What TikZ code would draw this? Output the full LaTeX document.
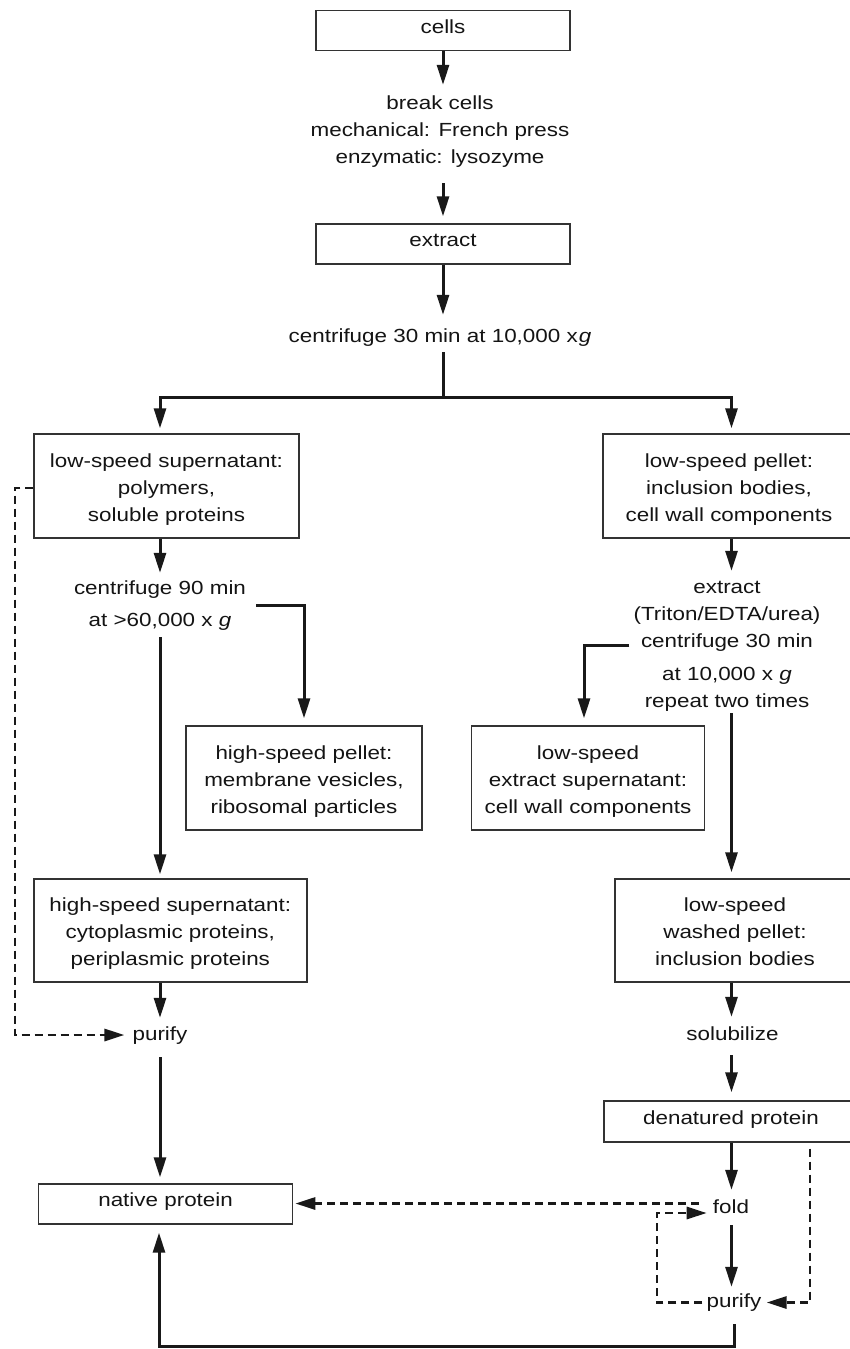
\documentclass[tikz,border=0pt]{standalone}
\usepackage{fontspec}
\setmainfont[FakeStretch=1.18]{Liberation Sans}
\usetikzlibrary{arrows.meta}
\newcommand\bxtop{\rule{0pt}{24pt}}
\newcommand\bxbot{\rule[-8pt]{0pt}{8pt}}
\newcommand\txtop{\rule{0pt}{14pt}}
\newcommand\txbot{\rule[-5pt]{0pt}{5pt}}
\tikzset{
 basefont/.style={font=\fontsize{19}{27}\selectfont, text=black!92, inner sep=0pt},
 boxone/.style={basefont, draw=black!80, line width=1.4pt, text height=14pt, text depth=9pt, minimum height=40pt},
 boxthree/.style={basefont, draw=black!80, line width=1.4pt, align=center, minimum height=104pt},
 txt/.style={basefont, text height=14pt, text depth=5pt},
 mtxt/.style={basefont, align=center},
 arr/.style={line width=3pt, draw=black!90, -{Triangle[length=20pt,width=12pt]}},
 darr/.style={arr, dash pattern=on 8pt off 5pt, line width=2.9pt},
 plainline/.style={line width=3pt, draw=black!90},
}
\begin{document}
\begin{tikzpicture}[x=1pt,y=-1pt]
\fill[white] (0,0) rectangle (850,1349);
\useasboundingbox (0,0) rectangle (850,1349);

\node[boxone, minimum width=254pt] (cells) at (443,30.7) {cells};
\node[mtxt] (break) at (440,131.5) {\txtop break cells\\mechanical: French press\\enzymatic: lysozyme\txbot};
\node[boxone, minimum width=254pt] (extract) at (443,244) {extract};
\node[txt] (c1) at (440,337.5) {centrifuge 30 min at 10,000 x\kern1pt\textit{g}};
\node[boxthree, minimum width=265pt] (lss) at (166.5,486) {\bxtop low-speed supernatant:\\polymers,\\soluble proteins\bxbot};
\node[boxthree, minimum width=252pt] (lsp) at (729,486) {\bxtop low-speed pellet:\\inclusion bodies,\\cell wall components\bxbot};
\node[mtxt] (cf90) at (160,605.5) {\txtop centrifuge 90 min\\[5pt]at >60,000 x \textit{g}\txbot};
\node[mtxt] (rtext) at (727,645.5) {\txtop extract\\(Triton/EDTA/urea)\\centrifuge 30 min\\[6pt]at 10,000 x \textit{g}\\repeat two times\txbot};
\node[boxthree, minimum width=236pt] (hsp) at (304,778) {\bxtop high-speed pellet:\\membrane vesicles,\\ribosomal particles\bxbot};
\node[boxthree, minimum width=233pt] (lses) at (588,778) {\bxtop low-speed\\extract supernatant:\\cell wall components\bxbot};
\node[boxthree, minimum width=273pt, minimum height=103pt] (hss) at (170.3,930.5) {\bxtop high-speed supernatant:\\cytoplasmic proteins,\\periplasmic proteins\bxbot};
\node[boxthree, minimum width=240pt, minimum height=103pt] (lswp) at (735,930.5) {\bxtop low-speed\\washed pellet:\\inclusion bodies\bxbot};
\node[txt] (p1) at (160,1035.5) {purify};
\node[txt] (sol) at (732.5,1035.5) {solubilize};
\node[boxone, minimum width=254pt, minimum height=41pt] (dp) at (731,1121.5) {denatured protein};
\node[boxone, minimum width=254pt] (np) at (165.6,1204) {native protein};
\node[txt] (fold) at (731,1208.5) {fold};
\node[txt] (p2) at (734,1302.5) {purify};

\coordinate (colL) at (160,0);
\coordinate (colR) at (731.5,0);
\coordinate (split) at (443,397);
\coordinate (bl) at (159,1346.5);
\coordinate (br) at (734,1346.5);
\coordinate (dl1) at (15,488);
\coordinate (dl2) at (15,1035);
\coordinate (lp) at (657,1213);
\coordinate (rp) at (810,1302.5);

\draw[arr, shorten >=10pt] (cells.south) -- (cells.south |- break.north);
\draw[arr, shorten <=15pt, shorten >=7pt] (extract.north |- break.south) -- (extract.north);
\draw[arr, shorten >=13pt] (extract.south) -- (extract.south |- c1.north);
\draw[plainline, shorten <=5pt] (split |- c1.south) -- (split);
\draw[arr, shorten >=5pt] (split) -| (lss.north -| colL);
\draw[arr, shorten >=5pt] (split) -| (lsp.north -| colR);
\draw[arr, shorten >=7pt] (lss.south -| colL) -- (cf90.north -| colL);
\draw[arr, shorten <=6pt, shorten >=4pt] (cf90.south -| colL) -- (hss.north -| colL);
\draw[arr, shorten <=10pt, shorten >=7pt] (cf90.east) -| (hsp.north);
\draw[arr, shorten >=8pt] (hss.south -| colL) -- (p1.north);
\draw[arr, shorten <=12pt, shorten >=6pt] (p1.south) -- (np.north -| colL);
\draw[arr, shorten <=12pt, shorten >=8pt] (p2.south) -- (br) -- (bl) -- (np.south -| bl);

\draw[arr, shorten >=8pt] (lsp.south -| colR) -- (rtext.north -| colR);
\draw[arr, shorten <=4pt, shorten >=7pt] (rtext.west) -| ([xshift=-4pt]lses.north);
\draw[arr, shorten <=1pt, shorten >=6pt] (rtext.south -| colR) -- (lswp.north -| colR);
\draw[arr, shorten >=9pt] (lswp.south -| colR) -- (sol.north -| colR);
\draw[arr, shorten <=10pt, shorten >=8pt] (sol.south -| colR) -- (dp.north -| colR);
\draw[arr, shorten >=9pt] (dp.south -| colR) -- (fold.north -| colR);
\draw[arr, shorten <=7pt, shorten >=6pt] (fold.south -| colR) -- (p2.north -| colR);

\draw[darr, shorten >=8pt] (lss.west |- dl1) -- (dl1) -- (dl2) -- (dl2 -| p1.west);
\draw[darr, shorten <=14pt, shorten >=2pt] ([yshift=5pt]fold.west) -- ([yshift=5pt]fold.west -| np.east);
\draw[darr, shorten <=4pt, shorten >=6pt] (p2.west) -| (lp) -- (lp -| fold.west);
\draw[darr, shorten <=6pt, shorten >=5pt] (dp.south -| rp) -- (rp) -- (p2.east);
\end{tikzpicture}
\end{document}
